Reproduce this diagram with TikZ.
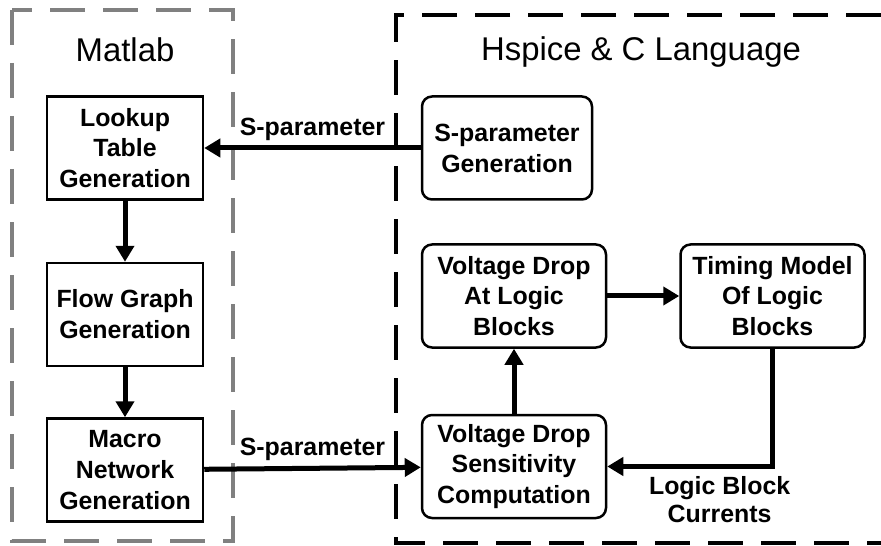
\documentclass[tikz,border=0pt]{standalone}
\usepackage{fontspec}
\setmainfont{Liberation Sans}
\usetikzlibrary{arrows.meta, positioning}
\tikzset{
    box/.style={draw=black, line width=2.5bp, fill=white, align=center, inner sep=0pt,
        minimum width=156bp, minimum height=103bp, font=\fontsize{25}{31}\selectfont\bfseries},
    rbox/.style={box, rounded corners=10bp},
    arrow/.style={-{Triangle[length=16bp, width=18bp]}, line width=5bp, black},
    lbl/.style={font=\fontsize{25}{28}\selectfont\bfseries, align=center},
    ttl/.style={font=\fontsize{33}{36}\selectfont},
    grayframe/.style={draw=black!50, line width=4bp, dash pattern=on 35bp off 18bp},
    blackframe/.style={draw=black, line width=3.5bp, dash pattern=on 35bp off 18bp}
}
\begin{document}
\begin{tikzpicture}[x=1bp, y=-1bp]
        \useasboundingbox (0,0) rectangle (881,546);
        % tool frames
        \draw [grayframe] (12,10) rectangle (233,541);
        \draw [blackframe] (881,15) -- (396,15) -- (396,543) -- (881,543);
        \node [ttl] (matlab) at (125,50) {Matlab};
        \node [ttl] (hspice) at (641,52) {Hspice \& C Language};
        % Matlab side
        \node [box] (lookup) at (125,148) {Lookup\\Table\\Generation};
        \node [box, below=61bp of lookup] (flowgraph) {Flow Graph\\Generation};
        \node [box, below=50bp of flowgraph] (macro) {Macro\\Network\\Generation};
        % Hspice side
        \node [rbox, minimum width=170bp] (sgen) at (507,148) {S-parameter\\Generation};
        \node [rbox, minimum width=184bp] (vdrop) at (514,296) {Voltage Drop\\At Logic\\Blocks};
        \node [rbox, minimum width=184bp, right=72bp of vdrop] (timing) {Timing Model\\Of Logic\\Blocks};
        \node [rbox, minimum width=184bp, below=65bp of vdrop] (sens) {Voltage Drop\\Sensitivity\\Computation};
        \draw [arrow] (sgen) -- node [lbl, above=2bp] {S-parameter} (lookup);
        \draw [arrow] (lookup) -- (flowgraph);
        \draw [arrow] (flowgraph) -- (macro);
        \draw [arrow] (macro) -- node [lbl, above=2bp] {S-parameter} (sens);
        \draw [arrow] (sens) -- (vdrop);
        \draw [arrow] (vdrop) -- (timing);
        \draw [arrow] (timing.south) |- node [lbl, below=4bp, pos=0.66] {Logic Block\\Currents} (sens.east);
    \end{tikzpicture}
\end{document}
